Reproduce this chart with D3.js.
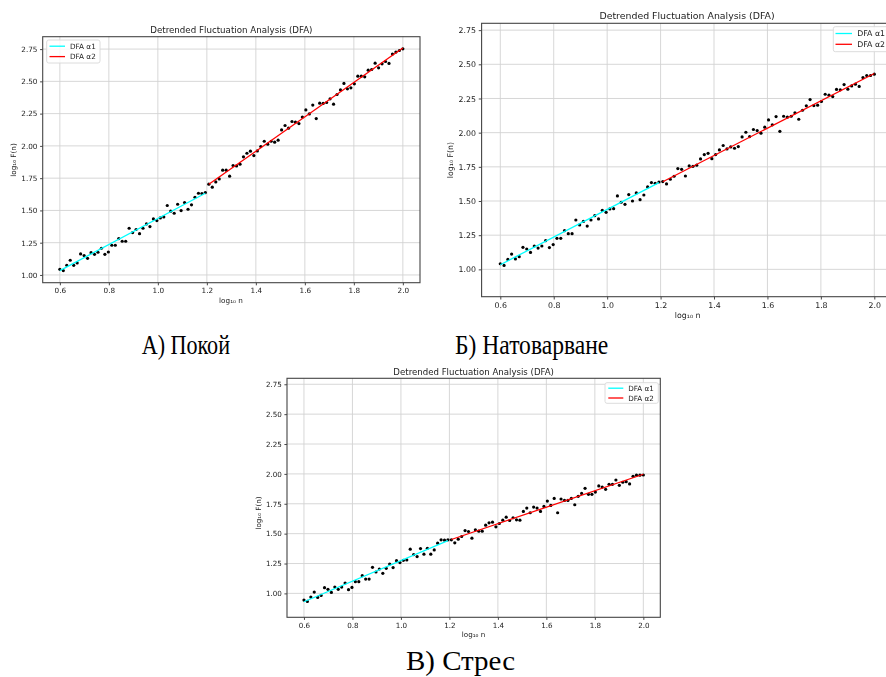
<!DOCTYPE html>
<html>
<head>
<meta charset="utf-8">
<script src="https://cdn.jsdelivr.net/npm/d3@7"></script>
<style>
  html, body { margin: 0; padding: 0; background: #fff; }
  svg { display: block; }
</style>
</head>
<body>
<svg id="fig" width="886" height="677"></svg>
<script>
// ---- data -------------------------------------------------------------
// log10 n (window sizes, same grid for every condition)
const logN = [
  0.6000,0.6141,0.6283,0.6424,0.6566,0.6707,0.6848,0.6990,0.7131,0.7273,
  0.7414,0.7556,0.7697,0.7838,0.7980,0.8121,0.8263,0.8404,0.8545,0.8687,
  0.8828,0.8970,0.9111,0.9253,0.9394,0.9535,0.9677,0.9818,0.9960,1.0101,
  1.0242,1.0384,1.0525,1.0667,1.0808,1.0949,1.1091,1.1232,1.1374,1.1515,
  1.1657,1.1798,1.1939,1.2081,1.2222,1.2364,1.2505,1.2646,1.2788,1.2929,
  1.3071,1.3212,1.3354,1.3495,1.3636,1.3778,1.3919,1.4061,1.4202,1.4343,
  1.4485,1.4626,1.4768,1.4909,1.5051,1.5192,1.5333,1.5475,1.5616,1.5758,
  1.5899,1.6040,1.6182,1.6323,1.6465,1.6606,1.6747,1.6889,1.7030,1.7172,
  1.7313,1.7455,1.7596,1.7737,1.7879,1.8020,1.8162,1.8303,1.8444,1.8586,
  1.8727,1.8869,1.9010,1.9152,1.9293,1.9434,1.9576,1.9717,1.9859,2.0000
];

// log10 F(n) — rest
const restF = [
  1.044,1.034,1.075,1.114,1.075,1.093,1.163,1.150,1.129,1.173,
  1.160,1.176,1.207,1.160,1.178,1.230,1.230,1.282,1.261,1.261,
  1.362,1.328,1.352,1.320,1.362,1.395,1.375,1.434,1.421,1.442,
  1.450,1.538,1.494,1.478,1.548,1.499,1.561,1.509,1.543,1.602,
  1.633,1.631,1.638,1.703,1.680,1.721,1.744,1.812,1.812,1.765,
  1.848,1.845,1.858,1.915,1.943,1.959,1.925,1.961,1.995,2.036,
  2.013,2.036,2.029,2.044,2.124,2.158,2.137,2.189,2.184,2.173,
  2.223,2.279,2.248,2.316,2.212,2.331,2.329,2.336,2.365,2.323,
  2.398,2.434,2.484,2.442,2.450,2.481,2.540,2.540,2.535,2.587,
  2.592,2.641,2.605,2.636,2.654,2.639,2.711,2.727,2.739,2.752
];

// log10 F(n) — load
const loadF = [
  1.041,1.029,1.073,1.112,1.076,1.093,1.161,1.149,1.124,1.171,
  1.156,1.171,1.210,1.159,1.181,1.227,1.227,1.283,1.261,1.261,
  1.361,1.325,1.351,1.317,1.361,1.393,1.369,1.432,1.417,1.442,
  1.444,1.537,1.491,1.476,1.547,1.500,1.559,1.510,1.544,1.603,
  1.635,1.630,1.639,1.642,1.625,1.659,1.681,1.737,1.732,1.683,
  1.757,1.754,1.762,1.808,1.840,1.849,1.810,1.840,1.874,1.906,
  1.881,1.896,1.886,1.898,1.969,2.003,1.971,2.023,2.015,1.996,
  2.040,2.093,2.057,2.118,2.010,2.120,2.113,2.120,2.145,2.098,
  2.164,2.196,2.242,2.198,2.201,2.228,2.281,2.274,2.264,2.316,
  2.313,2.352,2.318,2.342,2.355,2.338,2.403,2.418,2.418,2.428
];

// log10 F(n) — stress
const stressF = [
  0.944,0.933,0.969,1.011,0.966,0.983,1.048,1.034,1.008,1.053,
  1.034,1.053,1.087,1.031,1.050,1.098,1.098,1.148,1.120,1.120,
  1.218,1.179,1.204,1.168,1.210,1.246,1.216,1.274,1.258,1.277,
  1.280,1.370,1.325,1.308,1.375,1.328,1.378,1.328,1.364,1.420,
  1.448,1.445,1.448,1.448,1.423,1.454,1.476,1.526,1.518,1.462,
  1.532,1.521,1.521,1.571,1.591,1.596,1.557,1.585,1.613,1.638,
  1.610,1.633,1.616,1.613,1.686,1.714,1.675,1.722,1.714,1.686,
  1.728,1.773,1.736,1.795,1.675,1.790,1.778,1.778,1.795,1.742,
  1.812,1.837,1.879,1.829,1.829,1.848,1.899,1.890,1.871,1.913,
  1.913,1.949,1.904,1.930,1.935,1.916,1.980,1.989,1.989,1.991
];

// fitted segments [x0, y0, x1, y1] for the short-range (α1) and long-range (α2) scaling
const restAlpha1   = [0.6, 1.034, 1.1939, 1.633];
const restAlpha2   = [1.2081, 1.703, 2.0, 2.758];
const loadAlpha1   = [0.6, 1.034, 1.1939, 1.635];
const loadAlpha2   = [1.2081, 1.641, 2.0, 2.433];
const stressAlpha1 = [0.6, 0.930, 1.1939, 1.442];
const stressAlpha2 = [1.2081, 1.451, 2.0, 1.997];

const xTicks = [0.6, 0.8, 1.0, 1.2, 1.4, 1.6, 1.8, 2.0];
const yTicks = [1.00, 1.25, 1.50, 1.75, 2.00, 2.25, 2.50, 2.75];
const legendLabels = ["DFA α1", "DFA α2"];
const captions = ["А) Покой", "Б) Натоварване", "В) Стрес"];
const chartTitle = "Detrended Fluctuation Analysis (DFA)";

// ---- drawing ----------------------------------------------------------
const svg = d3.select("#fig");
svg.append("rect").attr("width", 886).attr("height", 677).attr("fill", "#fff");

const defs = svg.append("defs");
defs.append("filter").attr("id", "soft")
  .attr("x", "-5%").attr("y", "-5%").attr("width", "110%").attr("height", "110%")
  .append("feGaussianBlur").attr("stdDeviation", 0.45);

const FONT = "'DejaVu Sans', sans-serif";

function panel(cfg, ys, fit1, fit2) {
  const g = svg.append("g").attr("filter", "url(#soft)");
  const x = d3.scaleLinear().domain([0.53, 2.07]).range([cfg.left, cfg.right]);
  const y = d3.scaleLinear().domain(cfg.yDomain).range([cfg.bottom, cfg.top]);
  const k = cfg.k;
  const tickFs = 10 * k, titleFs = 12 * k;

  // grid
  const grid = g.append("g").attr("stroke", "#d2d2d2").attr("stroke-width", 0.9);
  xTicks.forEach(t => grid.append("line")
    .attr("x1", x(t)).attr("x2", x(t)).attr("y1", cfg.top).attr("y2", cfg.bottom));
  yTicks.forEach(t => grid.append("line")
    .attr("x1", cfg.left).attr("x2", cfg.right).attr("y1", y(t)).attr("y2", y(t)));

  // axes
  const ax = g.append("g").attr("transform", `translate(0,${cfg.bottom})`)
    .call(d3.axisBottom(x).tickValues(xTicks).tickFormat(d3.format(".1f"))
      .tickSize(2.6 * k / 0.72).tickPadding(2.6 * k / 0.72));
  const ay = g.append("g").attr("transform", `translate(${cfg.left},0)`)
    .call(d3.axisLeft(y).tickValues(yTicks).tickFormat(d3.format(".2f"))
      .tickSize(2.6 * k / 0.72).tickPadding(2.6 * k / 0.72));
  [ax, ay].forEach(a => {
    a.select(".domain").remove();
    a.selectAll(".tick line").attr("stroke", "#333").attr("stroke-width", 0.9);
    a.selectAll(".tick text").attr("fill", "#222")
      .style("font-family", FONT).style("font-size", tickFs + "px");
  });

  // points
  g.append("g").selectAll("circle").data(ys).join("circle")
    .attr("cx", (d, i) => x(logN[i])).attr("cy", d => y(d))
    .attr("r", 1.6).attr("fill", "#000");

  // fitted lines
  [[fit1, "cyan"], [fit2, "red"]].forEach(([f, c]) => {
    g.append("line")
      .attr("x1", x(f[0])).attr("y1", y(f[1])).attr("x2", x(f[2])).attr("y2", y(f[3]))
      .attr("stroke", c).attr("stroke-width", 1.3);
  });

  // frame
  g.append("rect").attr("x", cfg.left).attr("y", cfg.top)
    .attr("width", cfg.right - cfg.left).attr("height", cfg.bottom - cfg.top)
    .attr("fill", "none").attr("stroke", "#444").attr("stroke-width", 1.1);

  // title & axis labels
  g.append("text").attr("x", (cfg.left + cfg.right) / 2 + (cfg.titleDx || 0)).attr("y", cfg.titleY)
    .attr("text-anchor", "middle").attr("fill", "#222")
    .style("font-family", FONT).style("font-size", titleFs + "px").text(chartTitle);
  g.append("text").attr("x", cfg.xLabelX).attr("y", cfg.xLabelY)
    .attr("text-anchor", "middle").attr("fill", "#222")
    .style("font-family", FONT).style("font-size", tickFs + "px").text("log₁₀ n");
  g.append("text").attr("transform", `translate(${cfg.yLabelX},${cfg.yLabelY}) rotate(-90)`)
    .attr("text-anchor", "middle").attr("fill", "#222")
    .style("font-family", FONT).style("font-size", tickFs + "px").text("log₁₀ F(n)");

  // legend
  const L = cfg.legend;
  g.append("rect").attr("x", L.x).attr("y", L.y).attr("width", L.w).attr("height", L.h)
    .attr("rx", 2).attr("fill", "#fff").attr("fill-opacity", 0.85)
    .attr("stroke", "#d8d8d8").attr("stroke-width", 0.9);
  ["cyan", "red"].forEach((c, i) => {
    const ry = L.rows[i];
    g.append("line").attr("x1", L.lx0).attr("x2", L.lx1).attr("y1", ry).attr("y2", ry)
      .attr("stroke", c).attr("stroke-width", 1.3);
    g.append("text").attr("x", L.tx).attr("y", ry).attr("dy", "0.35em").attr("fill", "#222")
      .style("font-family", FONT).style("font-size", tickFs + "px").text(legendLabels[i]);
  });
}

// А) rest
panel({
  left: 42.7, right: 420, top: 36.7, bottom: 282.7, yDomain: [0.94, 2.846], k: 0.725,
  titleY: 33, xLabelX: 231, xLabelY: 302.5, yLabelX: 15.5, yLabelY: 160,
  legend: { x: 46.7, y: 40, w: 53.3, h: 23, rows: [46.2, 56.6], lx0: 49.5, lx1: 65, tx: 70 }
}, restF, restAlpha1, restAlpha2);

// Б) load
panel({
  left: 481.6, right: 893, top: 23.3, bottom: 296.7, yDomain: [0.8, 2.8], k: 0.783,
  titleY: 18.5, titleDx: -0.3, xLabelX: 687.7, xLabelY: 317.5, yLabelX: 452.5, yLabelY: 160,
  legend: { x: 833.3, y: 26.7, w: 60, h: 25, rows: [33.5, 44.3], lx0: 835.5, lx1: 852, tx: 857.3 }
}, loadF, loadAlpha1, loadAlpha2);

// В) stress
panel({
  left: 287, right: 660.3, top: 378.3, bottom: 617.3, yDomain: [0.8, 2.8], k: 0.717,
  titleY: 374.5, xLabelX: 473.5, xLabelY: 636.5, yLabelX: 260.5, yLabelY: 513,
  legend: { x: 605, y: 382.7, w: 53.3, h: 20.6, rows: [388.2, 398], lx0: 608.3, lx1: 623.3, tx: 628.3 }
}, stressF, stressAlpha1, stressAlpha2);

// captions
const capPos = [
  { x: 141.7, y: 354, w: 88.3 },
  { x: 455, y: 354, w: 153.3 },
  { x: 406, y: 670, w: 109 }
];
captions.forEach((c, i) => {
  svg.append("text").attr("x", capPos[i].x).attr("y", capPos[i].y)
    .attr("textLength", capPos[i].w).attr("lengthAdjust", "spacingAndGlyphs")
    .attr("fill", "#000")
    .style("font-family", "'Liberation Serif', 'Times New Roman', serif")
    .style("font-size", "27px").text(c);
});
</script>
</body>
</html>
